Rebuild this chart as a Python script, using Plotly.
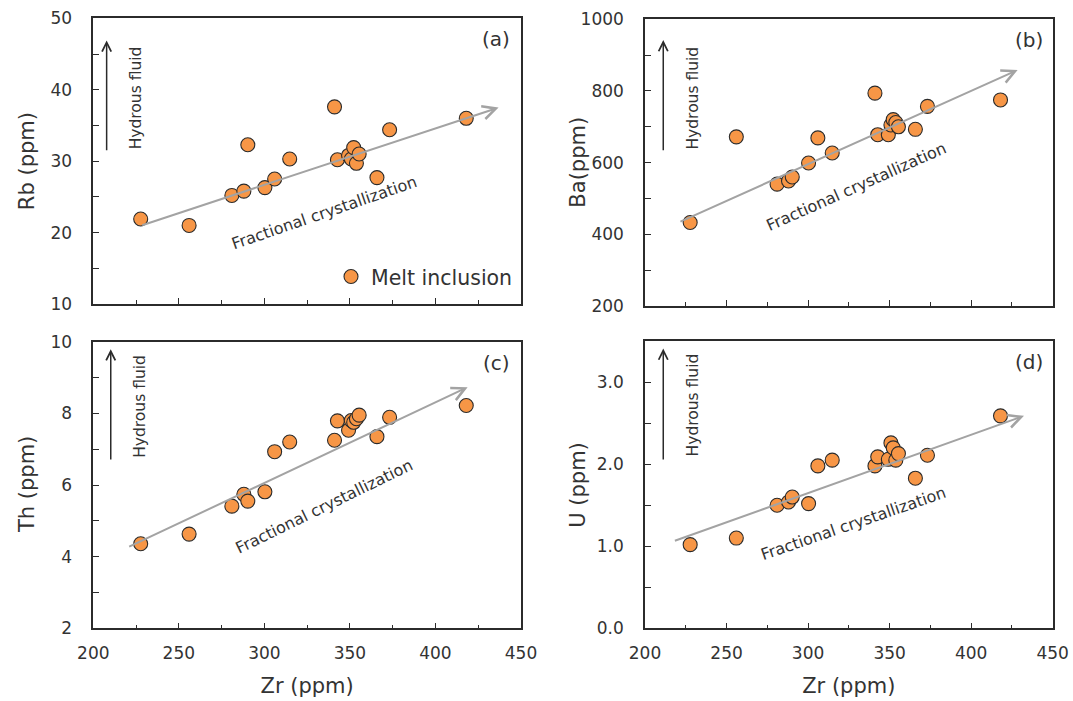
import plotly.graph_objects as go

# ---------------- data ----------------
zr = [227.7, 256.0, 281.0, 288.0, 290.3, 300.3, 306.0, 314.8, 341.0, 342.7,
      349.2, 350.8, 352.2, 353.8, 355.4, 365.8, 373.2, 418.0]
rb = [21.9, 21.0, 25.2, 25.8, 32.3, 26.3, 27.5, 30.3, 37.6, 30.2,
      30.8, 30.3, 31.9, 29.7, 31.0, 27.7, 34.4, 36.0]
ba = [433, 672, 540, 549, 560, 599, 669, 627, 794, 678,
      678, 705, 720, 712, 700, 693, 757, 775]
th = [4.36, 4.63, 5.41, 5.74, 5.55, 5.81, 6.93, 7.20, 7.25, 7.79,
      7.53, 7.80, 7.75, 7.85, 7.95, 7.35, 7.89, 8.22]
u = [1.02, 1.10, 1.50, 1.54, 1.60, 1.52, 1.98, 2.05, 1.98, 2.09,
     2.06, 2.26, 2.20, 2.05, 2.13, 1.83, 2.11, 2.59]

panel_labels = ["(a)", "(b)", "(c)", "(d)"]
y_titles = ["Rb (ppm)", "Ba(ppm)", "Th (ppm)", "U (ppm)"]
x_title = "Zr (ppm)"
legend_name = "Melt inclusion"
fc_text = "Fractional crystallization"
hf_text = "Hydrous fluid"

# fractional crystallization trend arrows: (tail x, tail y, tip x, tip y)
fc_arrows = [(227.7, 20.96, 436.9, 37.5),
             (220.8, 433.6, 428.5, 858.5),
             (220.1, 4.26, 418.8, 8.73),
             (217.4, 1.06, 432.4, 2.59)]
# label position and angle of the trend text
fc_labels = [(335.4, 22.74, -19), (329.8, 532.9, -24), (334.9, 5.39, -26), (327.7, 1.28, -19)]
# hydrous fluid arrows: (x, bottom y, top y), text (x, y)
hf_arrows = [(207.8, 31.3, 46.9), (211.2, 630.6, 942.0), (210.2, 6.67, 9.79), (211.2, 2.04, 3.41)]
hf_labels = [(225.0, 38.8), (229.6, 779.6), (226.9, 8.19), (229.6, 2.72)]

W, H = 1073, 701
FONT = "DejaVu Sans"
TXT = "#333333"
ORANGE = "#F79646"
EDGE = "#2b2b2b"
GREY = "#A3A3A3"

# plot areas in window px: (left, right, top, bottom)
areas = [(93.3, 521.0, 18.3, 304.0),
         (645.0, 1052.7, 19.3, 306.0),
         (93.3, 521.0, 341.7, 628.3),
         (645.0, 1052.7, 341.2, 628.3)]
y_ranges = [(10, 50), (200, 1000), (2, 10), (0, 3.5)]
y_dticks = [10, 200, 2, 1.0]
y_minor = [5, 100, 1, 0.5]
y_fmt = ["", "", "", ".1f"]
ys = [rb, ba, th, u]


def px_x(v):
    return v / W


def px_y(v):
    return 1 - v / H


fig = go.Figure()
for i in range(4):
    s = "" if i == 0 else str(i + 1)
    fig.add_trace(go.Scatter(
        x=zr, y=ys[i], mode="markers", xaxis="x" + s, yaxis="y" + s,
        name=legend_name, showlegend=(i == 0),
        marker=dict(size=14, color=ORANGE, line=dict(color=EDGE, width=1.1)),
    ))

layout = dict(width=W, height=H, margin=dict(l=0, r=0, t=0, b=0, pad=0, autoexpand=False),
              paper_bgcolor="white", plot_bgcolor="white",
              font=dict(family=FONT, color=TXT))
annotations = []
for i in range(4):
    s = "" if i == 0 else str(i + 1)
    l, r, t, b = areas[i]
    bottom_row = i >= 2
    xa = dict(domain=[px_x(l), px_x(r)], range=[200, 450], anchor="y" + s, automargin=False,
              tick0=200, dtick=50, ticks="inside", ticklen=6, tickwidth=1.2,
              tickcolor=EDGE, showticklabels=bottom_row,
              tickfont=dict(size=17, color=TXT, family=FONT), ticklabelstandoff=9,
              minor=dict(dtick=25, ticks="inside", ticklen=4, tickwidth=1.2, tickcolor=EDGE),
              showline=True, linecolor=EDGE, linewidth=1.5, mirror=True,
              showgrid=False, zeroline=False)
    if bottom_row:
        xa["title"] = dict(text=x_title, font=dict(size=21, color=TXT, family=FONT), standoff=16)
    ya = dict(domain=[px_y(b), px_y(t)], range=list(y_ranges[i]), anchor="x" + s,
              automargin=False,
              tick0=y_ranges[i][0], dtick=y_dticks[i], ticks="inside", ticklen=6, tickwidth=1.2,
              tickcolor=EDGE, tickformat=y_fmt[i],
              tickfont=dict(size=17, color=TXT, family=FONT), ticklabelstandoff=16,
              minor=dict(dtick=y_minor[i], ticks="inside", ticklen=6, tickwidth=1.2, tickcolor=EDGE),
              showline=True, linecolor=EDGE, linewidth=1.5, mirror=True,
              showgrid=False, zeroline=False)
    layout["xaxis" + s] = xa
    layout["yaxis" + s] = ya

    xr, yr = "x" + s, "y" + s
    # y axis title
    annotations.append(dict(text=y_titles[i], xref="paper", yref="paper",
                            x=px_x(27 if i % 2 == 0 else 578), xanchor="center", yanchor="middle",
                            y=px_y((t + b) / 2), showarrow=False, textangle=-90,
                            font=dict(size=21, color=TXT, family=FONT)))
    # panel label
    annotations.append(dict(text=panel_labels[i], xref=xr + " domain", yref=yr + " domain",
                            x=0.98, y=0.975, xanchor="right", yanchor="top", showarrow=False,
                            font=dict(size=20, color=TXT, family=FONT)))
    # FC arrow
    tx, ty, hx, hy = fc_arrows[i]
    annotations.append(dict(text="", x=hx, y=hy, ax=tx, ay=ty, xref=xr, yref=yr,
                            axref=xr, ayref=yr, showarrow=True, arrowhead=5,
                            arrowsize=1.3, arrowwidth=2, arrowcolor=GREY, standoff=0))
    fx, fy, ang = fc_labels[i]
    annotations.append(dict(text=fc_text, x=fx, y=fy, xref=xr, yref=yr, showarrow=False,
                            textangle=ang, font=dict(size=16, color=TXT, family=FONT)))
    # hydrous fluid arrow
    hx0, hb, ht = hf_arrows[i]
    annotations.append(dict(text="", x=hx0, y=ht, ax=hx0, ay=hb, xref=xr, yref=yr,
                            axref=xr, ayref=yr, showarrow=True, arrowhead=5,
                            arrowsize=1.2, arrowwidth=1.5, arrowcolor=EDGE, standoff=0))
    lx, ly = hf_labels[i]
    annotations.append(dict(text=hf_text, x=lx, y=ly, xref=xr, yref=yr, showarrow=False,
                            textangle=-90, font=dict(size=15.5, color=TXT, family=FONT)))

layout["annotations"] = annotations
layout["legend"] = dict(x=px_x(518), y=px_y(276.7), xanchor="right", yanchor="middle",
                        bgcolor="rgba(0,0,0,0)", font=dict(size=20.5, color=TXT, family=FONT),
                        itemwidth=30, tracegroupgap=0)
fig.update_layout(**layout)
fig.write_html(
    "out.html",
    config={"displayModeBar": False},
    post_script="document.body.style.margin='0';document.body.style.overflow='hidden';",
)
